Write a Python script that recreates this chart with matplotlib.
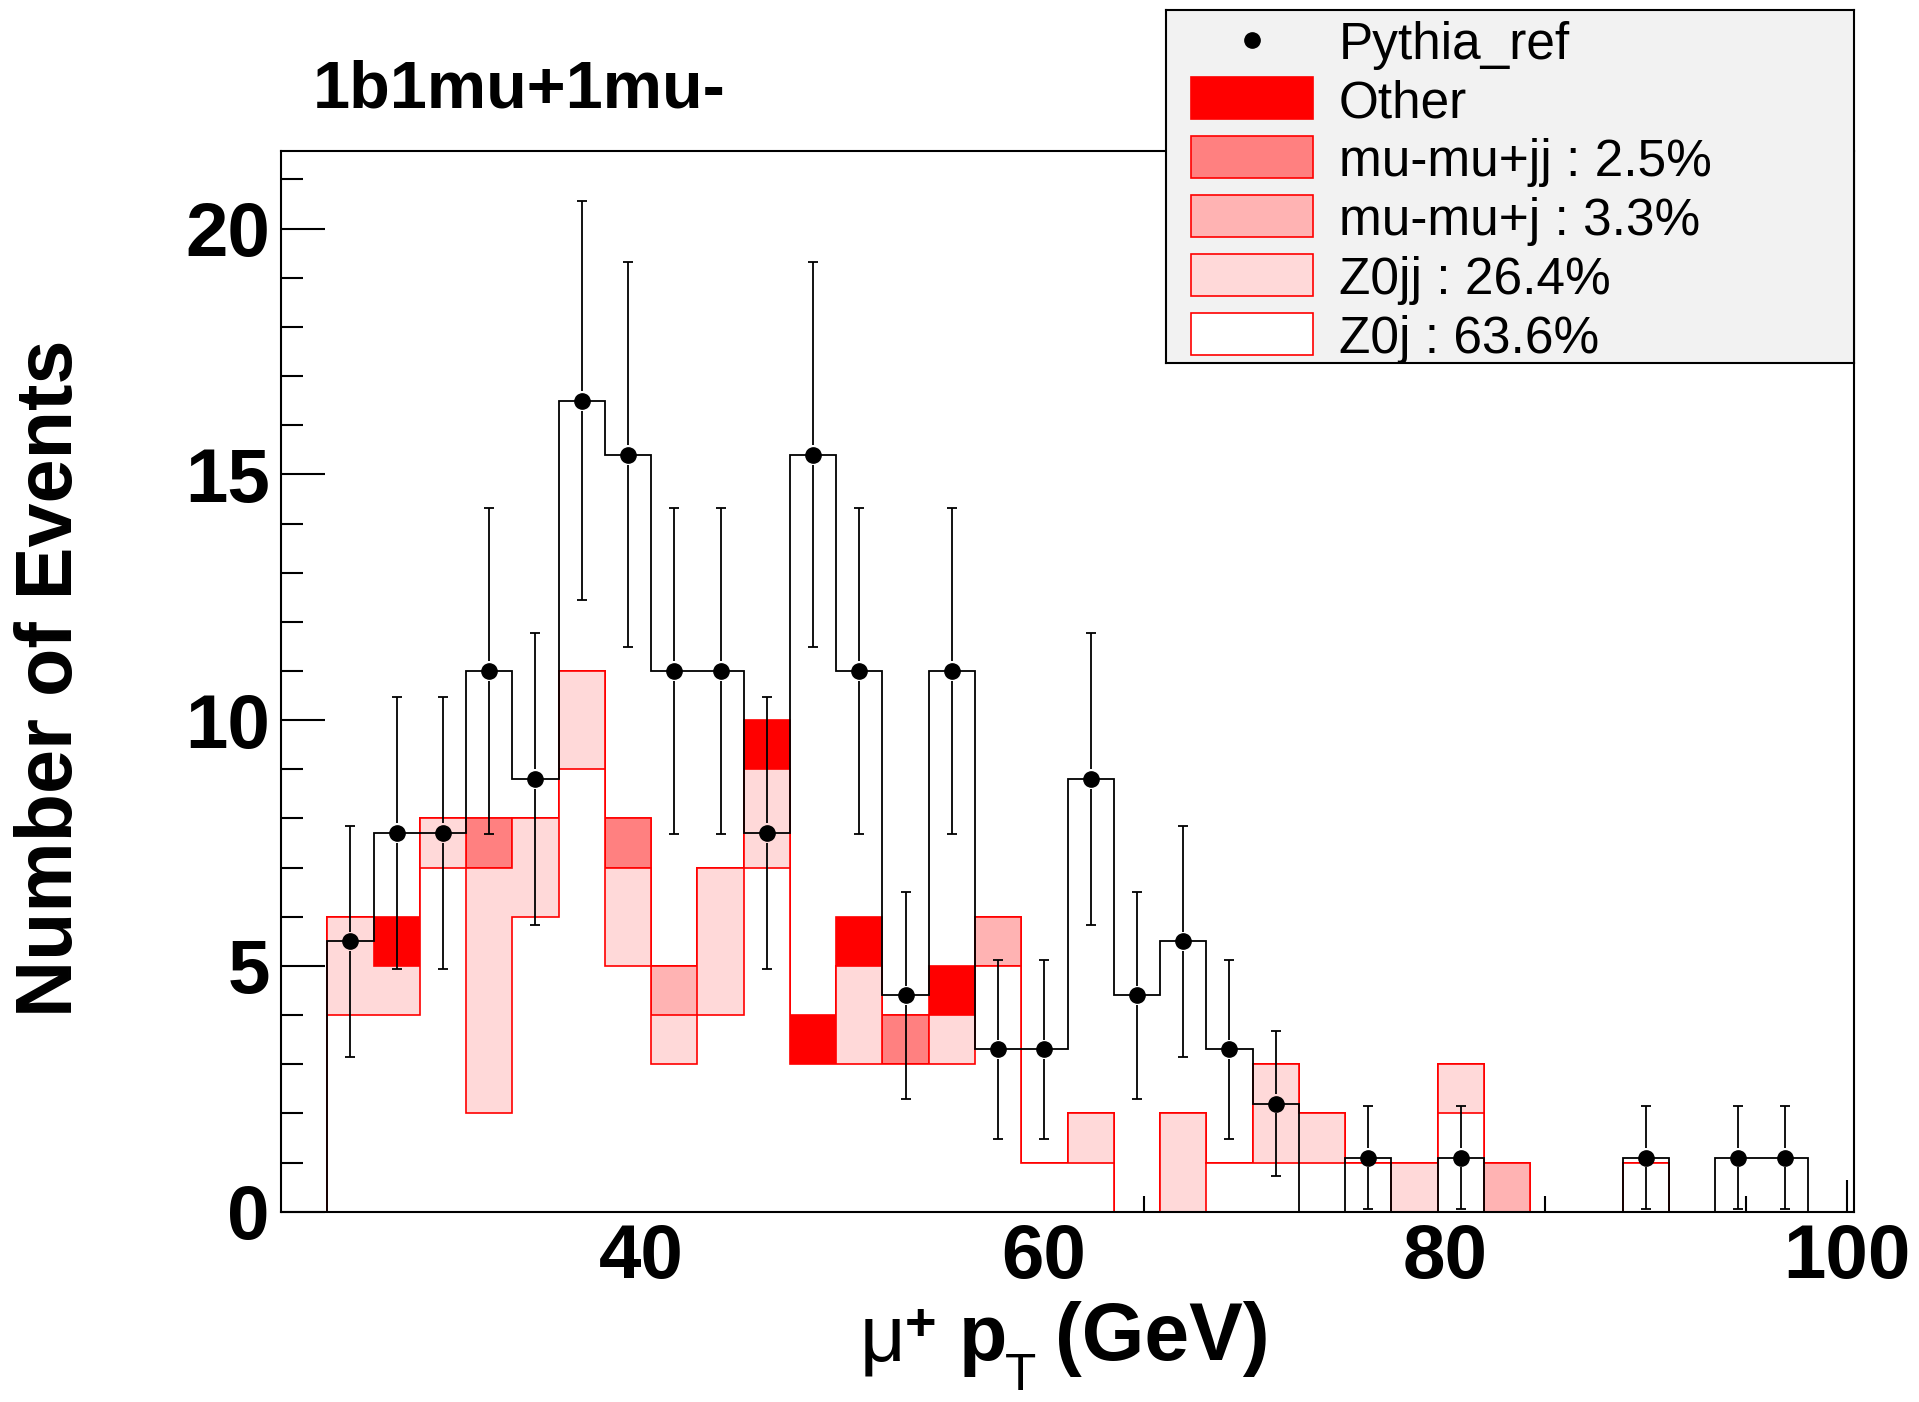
import numpy as np
import matplotlib
matplotlib.use("Agg")
import matplotlib.pyplot as plt
from matplotlib.patches import Rectangle
from matplotlib.ticker import MultipleLocator

# histogram definition (34 bins, first bin empty)
X_MIN, X_MAX, N_BINS = 22.04, 100.37, 34
Y_MAX = 21.59

# stacked MC contributions (events per bin)
z0j    = [0, 4, 4, 7, 2, 6, 9, 5, 3, 4, 7, 3, 3, 3, 3, 5, 1, 1, 0, 0, 1, 1, 1, 1, 0, 2, 0, 0, 0, 1, 0, 0, 0, 0]
z0jj   = [0, 2, 1, 1, 5, 2, 2, 2, 1, 3, 2, 0, 2, 0, 1, 0, 0, 1, 0, 2, 0, 2, 1, 0, 1, 1, 0, 0, 0, 0, 0, 0, 0, 0]
mumuj  = [0, 0, 0, 0, 0, 0, 0, 0, 1, 0, 0, 0, 0, 0, 0, 1, 0, 0, 0, 0, 0, 0, 0, 0, 0, 0, 1, 0, 0, 0, 0, 0, 0, 0]
mumujj = [0, 0, 0, 0, 1, 0, 0, 1, 0, 0, 0, 0, 0, 1, 0, 0, 0, 0, 0, 0, 0, 0, 0, 0, 0, 0, 0, 0, 0, 0, 0, 0, 0, 0]
other  = [0, 0, 1, 0, 0, 0, 0, 0, 0, 0, 1, 1, 1, 0, 1, 0, 0, 0, 0, 0, 0, 0, 0, 0, 0, 0, 0, 0, 0, 0, 0, 0, 0, 0]

# Pythia reference (scaled) and its errors
pythia = [0, 5.5, 7.7, 7.7, 11, 8.8, 16.5, 15.4, 11, 11, 7.7, 15.4, 11, 4.4, 11, 3.3, 3.3,
          8.8, 4.4, 5.5, 3.3, 2.2, 0, 1.1, 0, 1.1, 0, 0, 0, 1.1, 0, 1.1, 1.1, 0]
pythia_err = [0, 2.35, 2.77, 2.77, 3.32, 2.97, 4.06, 3.92, 3.32, 3.32, 2.77, 3.92, 3.32, 2.1, 3.32, 1.82, 1.82,
              2.97, 2.1, 2.35, 1.82, 1.48, 0, 1.05, 0, 1.05, 0, 0, 0, 1.05, 0, 1.05, 1.05, 0]

# bottom -> top of the stack
STACK = [("Z0j : 63.6%", z0j, "#ffffff"),
         ("Z0jj : 26.4%", z0jj, "#ffd9d9"),
         ("mu-mu+j : 3.3%", mumuj, "#ffb3b3"),
         ("mu-mu+jj : 2.5%", mumujj, "#ff8080"),
         ("Other", other, "#ff0000")]

ERR_GAP = 0.2   # gap between marker and error bar (ROOT style)

plt.rcParams["font.family"] = ["Liberation Sans", "DejaVu Sans"]

W, H = 1919, 1402
fig = plt.figure(figsize=(W / 100, H / 100), dpi=100)


def ftext(x, y, s, **kw):
    # text placed in figure pixels, measured from top-left
    return fig.text(x / W, 1 - y / H, s, **kw)


L, R, T, B = 281, 1854, 150.5, 1211.7
ax = fig.add_axes([L / W, 1 - B / H, (R - L) / W, (B - T) / H])

edges = np.linspace(X_MIN, X_MAX, N_BINS + 1)
centers = 0.5 * (edges[1:] + edges[:-1])
cum = np.cumsum([np.array(v, dtype=float) for _, v, _ in STACK], axis=0)
for i in reversed(range(len(STACK))):
    ax.stairs(cum[i], edges, baseline=0, fill=True, facecolor=STACK[i][2],
              edgecolor="#ff0000", linewidth=1.2, zorder=2)

pyth = np.array(pythia, dtype=float)
perr = np.array(pythia_err, dtype=float)
ax.stairs(pyth, edges, baseline=0, fill=False, color="black", linewidth=1.3, zorder=3)
m = pyth > 0
xc, yv, ev = centers[m], pyth[m], perr[m]
ax.vlines(xc, yv + ERR_GAP, yv + ev, color="black", linewidth=1.3, zorder=4)
ax.vlines(xc, np.maximum(yv - ev, 0), yv - ERR_GAP, color="black", linewidth=1.3, zorder=4)
ax.plot(np.r_[xc, xc], np.r_[yv + ev, yv - ev], "_", color="black", ms=7.5, mew=1.3, zorder=4)
ax.plot(xc, yv, "o", color="black", ms=11, zorder=5)

ax.set_xlim(X_MIN, X_MAX)
ax.set_ylim(0, Y_MAX)
ax.xaxis.set_major_locator(MultipleLocator(20))
ax.xaxis.set_minor_locator(MultipleLocator(5))
ax.yaxis.set_major_locator(MultipleLocator(5))
ax.yaxis.set_minor_locator(MultipleLocator(1))
ax.tick_params(which="both", direction="in", top=False, right=False, width=1.5)
ax.tick_params(axis="x", which="major", length=23, pad=8)
ax.tick_params(axis="x", which="minor", length=11.5)
ax.tick_params(axis="y", which="major", length=32, pad=8)
ax.tick_params(axis="y", which="minor", length=16)
for lab in ax.get_xticklabels() + ax.get_yticklabels():
    lab.set_fontsize(55)
    lab.set_fontweight("bold")
for s in ax.spines.values():
    s.set_linewidth(1.5)

ftext(313, 90.5, "1b1mu+1mu-", fontsize=48, fontweight="bold", ha="left", va="center")
ftext(52, 678, "Number of Events", fontsize=57, fontweight="bold",
      rotation=90, ha="center", va="center")

# x title built from pieces: mu (regular), + (bold sup), p (bold), T (sub), (GeV)
XB = 1360
ftext(860, XB, "\u03bc", fontsize=57, ha="left", va="baseline")
ftext(905, XB - 20, "+", fontsize=39, fontweight="bold", ha="left", va="baseline")
ftext(959, XB, "p", fontsize=57, fontweight="bold", ha="left", va="baseline")
ftext(1005, 1401, "T", fontsize=37, ha="left", va="bottom")
ftext(1055, XB, "(GeV)", fontsize=58, fontweight="bold", ha="left", va="baseline")

# legend box (pixel coordinates)
LX0, LY0, LX1, LY1 = 1166, 10, 1854, 363
lax = fig.add_axes([LX0 / W, 1 - LY1 / H, (LX1 - LX0) / W, (LY1 - LY0) / H], zorder=10)
lax.set_xlim(LX0, LX1)
lax.set_ylim(LY1, LY0)
lax.set_facecolor("#f2f2f2")
lax.set_xticks([])
lax.set_yticks([])
for s in lax.spines.values():
    s.set_linewidth(1.5)

rows = [39.5 + i * 58.8 for i in range(6)]
lax.plot([1251.5], [rows[0]], "o", color="black", ms=11)
lax.text(1339, rows[0] + 19, "Pythia_ref", fontsize=37, va="baseline")
for k, (name, _, col) in enumerate(reversed(STACK)):
    yc = rows[k + 1]
    lax.add_patch(Rectangle((1191, yc - 21), 122, 42, facecolor=col,
                            edgecolor="#ff0000", linewidth=1.2))
    lax.text(1339, yc + 19, name, fontsize=37, va="baseline")

fig.savefig("out.png", dpi=100)
